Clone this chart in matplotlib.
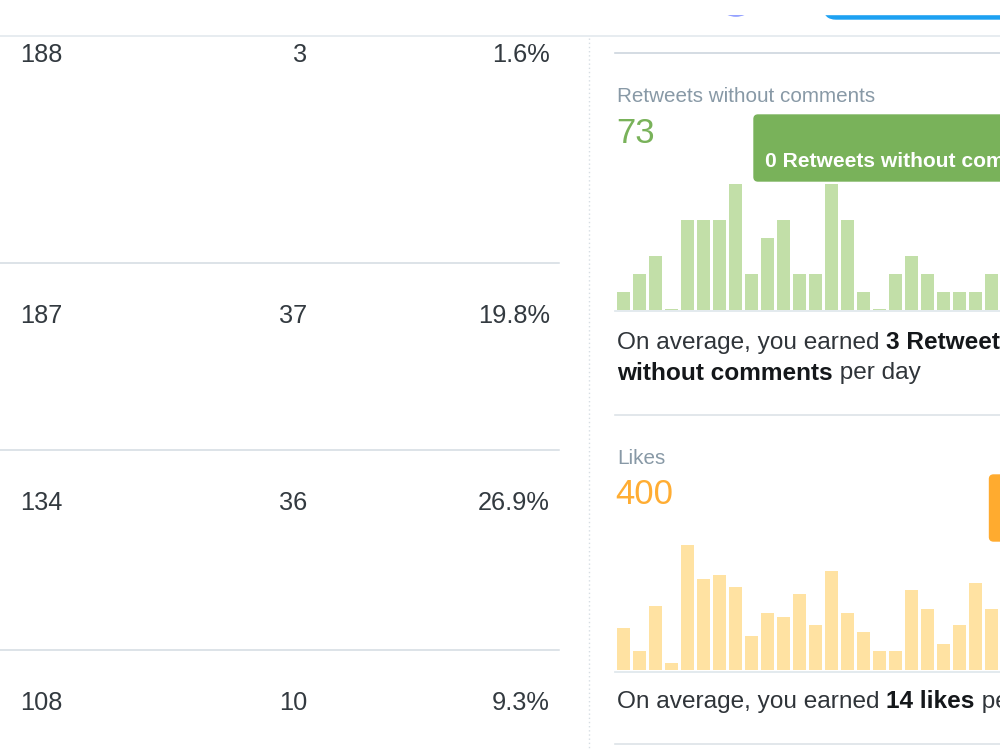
import numpy as np
import matplotlib
matplotlib.use("Agg")
import matplotlib.pyplot as plt
from matplotlib.patches import FancyBboxPatch, Circle, Rectangle

# ---------------- data ----------------
impressions = [188, 187, 134, 108]
engagements = [3, 37, 36, 10]
eng_rates = ["1.6%", "19.8%", "26.9%", "9.3%"]

rt_label = "Retweets without comments"
rt_total = "73"
rt_values = [1, 2, 3, 0, 5, 5, 5, 7, 2, 4, 5, 2, 2, 7, 5, 1, 0, 2, 3, 2, 1, 1, 1, 2]
rt_tooltip = "0 Retweets without comments"
rt_avg = "3"

likes_label = "Likes"
likes_total = "400"
likes_values = [11, 5, 17, 2, 33, 24, 25, 22, 9, 15, 14, 20, 12, 26, 15, 10, 5, 5,
                21, 16, 7, 12, 23, 16]
likes_avg = "14"

# ---------------- style ----------------
FONT = ["Liberation Sans", "DejaVu Sans"]
GREEN = "#79b25a"
GREEN_BAR = "#c2dfa8"
ORANGE = "#ffad33"
ORANGE_BOX = "#ffab2f"
ORANGE_BAR = "#ffe2a2"
LABEL_GRAY = "#8899a6"
TEXT = "#2f3439"
BOLD = "#14171a"
TABLE = "#333a40"
RULE = "#d3dbe2"

fig = plt.figure(figsize=(10, 7.5), dpi=100)
bg = fig.add_axes([0, 0, 1, 1])
bg.set_xlim(0, 1000)
bg.set_ylim(750, 0)
bg.axis("off")
renderer = fig.canvas.get_renderer()


def adv(s, **kw):
    t1 = bg.text(0, 0, "|" + s + "|", **kw)
    t2 = bg.text(0, 0, "||", **kw)
    w = t1.get_window_extent(renderer).width - t2.get_window_extent(renderer).width
    t1.remove()
    t2.remove()
    return w


def rich(x, y, parts, size):
    for s, wt, col in parts:
        kw = dict(fontsize=size, fontweight=wt, color=col, family=FONT)
        bg.text(x, y, s, va="baseline", ha="left", **kw)
        x += adv(s, **kw)


# ---------------- header ----------------
bg.add_patch(Circle((736, -6), 22, color="#7b8bff", zorder=1))
bg.add_patch(FancyBboxPatch((824, -40), 260, 59,
                            boxstyle="round,pad=0,rounding_size=12",
                            color="#1da1f2", zorder=1))
bg.add_patch(Rectangle((0, -50), 1000, 63.5, color="white", zorder=2))
bg.plot([0, 1000], [36, 36], color="#e3e9ee", lw=1.2, zorder=3)

# ---------------- left table ----------------
row_lines = [263.3, 450, 650]
for yl in row_lines:
    bg.plot([0, 559], [yl, yl], color=RULE, lw=1.1)
row_base = [61.7, 323, 510.5, 710.5]
for yb, imp, eng, rate in zip(row_base, impressions, engagements, eng_rates):
    kw = dict(fontsize=18.3, color=TABLE, family=FONT, va="baseline")
    bg.text(20, yb, str(imp), ha="left", **kw)
    bg.text(307, yb, str(eng), ha="right", **kw)
    bg.text(550, yb, rate, ha="right", **kw)

# dotted separator
bg.plot([589, 589], [38, 750], color="#d6dde3", lw=1.0, linestyle=(0, (1, 2)))

# ---------------- right panel ----------------
for yl, c in [(52.7, "#cdd6de"), (415, "#dde3e8"), (743.5, "#dde3e8")]:
    bg.plot([615, 1000], [yl, yl], color=c, lw=1.2)

bg.text(617, 102.5, rt_label, fontsize=14.9, color=LABEL_GRAY, family=FONT, va="baseline")
bg.text(616, 143.3, rt_total, fontsize=25, color=GREEN, family=FONT, va="baseline")

bg.add_patch(FancyBboxPatch((754, 115), 350, 66,
                            boxstyle="round,pad=0,rounding_size=4",
                            color=GREEN, zorder=4))
bg.text(765, 167, rt_tooltip, fontsize=15.1, fontweight="bold", color="white",
        family=FONT, va="baseline", zorder=5)

rich(617, 349.3, [("On average, you earned ", "normal", TEXT),
                  (rt_avg + " Retweets", "bold", BOLD)], 17.6)
rich(617, 379.5, [("without comments", "bold", BOLD),
                  (" per day", "normal", TEXT)], 17.6)

bg.text(617, 464.3, likes_label, fontsize=14.9, color=LABEL_GRAY, family=FONT, va="baseline")
bg.text(615.5, 504, likes_total, fontsize=25, color=ORANGE, family=FONT, va="baseline")
bg.add_patch(FancyBboxPatch((989.5, 475), 120, 66,
                            boxstyle="round,pad=0,rounding_size=4",
                            color=ORANGE_BOX, zorder=4))

rich(617, 708.3, [("On average, you earned ", "normal", TEXT),
                  (likes_avg + " likes", "bold", BOLD),
                  (" per day", "normal", TEXT)], 17.6)

# baselines of bar charts
bg.plot([615, 1000], [311.3, 311.3], color="#e1e8ed", lw=1.3)
bg.plot([615, 1000], [672.0, 672.0], color="#e1e8ed", lw=1.3)

# ---------------- bar charts ----------------
PITCH = 16.0
FIRST_CENTER = 623.8
AX_LEFT = 615.0
AX_W = 385.0


def bar_axes(bottom_px, top_px, values, ymax, color):
    ax = fig.add_axes([AX_LEFT / 1000, (750 - bottom_px) / 750,
                       AX_W / 1000, (bottom_px - top_px) / 750])
    ax.set_facecolor("none")
    x0 = -(FIRST_CENTER - AX_LEFT) / PITCH
    ax.set_xlim(x0, x0 + AX_W / PITCH)
    ax.set_ylim(0, ymax)
    vals = np.maximum(np.asarray(values, dtype=float), 0.08)
    ax.bar(np.arange(len(values)), vals, width=13 / PITCH, color=color,
           edgecolor="none")
    ax.axis("off")
    return ax


bar_axes(310.0, 184.3, rt_values, 7, GREEN_BAR)
bar_axes(670.3, 544.7, likes_values, 33, ORANGE_BAR)

fig.savefig("out.png", dpi=100, facecolor="white")
